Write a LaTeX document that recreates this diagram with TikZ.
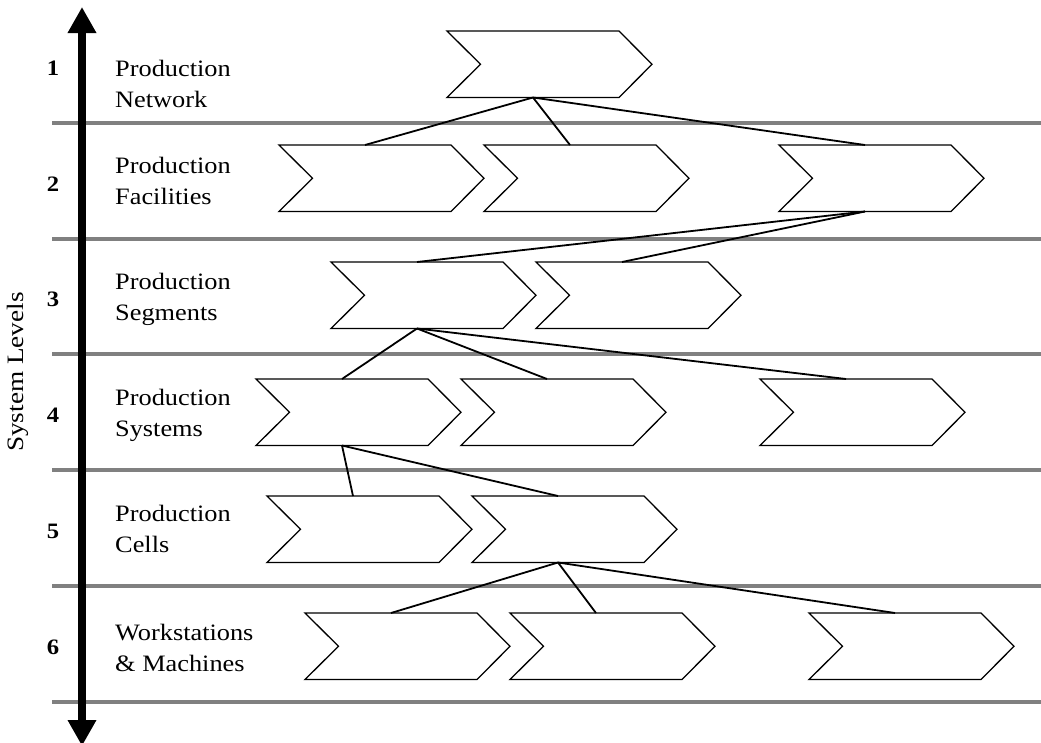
\documentclass[tikz,border=0pt]{standalone}
\usepackage{fontspec}
\setmainfont{Liberation Serif}
\usetikzlibrary{arrows.meta}
\definecolor{rulegray}{RGB}{128,128,128}

% chevron drawn around an invisible named box: name, left x, top y
\newcommand\chev[3]{%
  \node[chevbox, anchor=north west] (#1) at (#2,#3) {};
  \draw[chevline] (#1.north west) -- ([xshift=-33pt]#1.north east) -- (#1.east)
    -- ([xshift=-33pt]#1.south east) -- (#1.south west) -- ([xshift=33.5pt]#1.west) -- cycle;}
% link from the middle of a parent's lower edge to a child's upper edge
\newcommand\linkto[2]{%
  \draw[link] ([xshift=-16.5pt]#1.south) -- ([xshift=-16.5pt]#2.north);}
\newcommand\wide[1]{\scalebox{1.12}[1]{#1}}

\begin{document}
\begin{tikzpicture}[x=1pt,y=-1pt,
  chevbox/.style={draw=none, minimum width=205pt, minimum height=66.5pt, inner sep=0pt, outer sep=0pt},
  chevline/.style={line width=1.3pt, line join=miter, fill=white},
  link/.style={line width=1.8pt},
  band/.style={line width=4pt, draw=rulegray},
  lvl/.style={anchor=base, inner sep=0pt, font=\fontsize{22}{22}\selectfont\bfseries},
  lbl/.style={anchor=base west, inner sep=0pt, font=\fontsize{23.5}{31.5}\selectfont},
  axis/.style={line width=8.7pt, {Triangle[length=26pt,width=27pt]}-{Triangle[length=26pt,width=27pt]}}]
\useasboundingbox (0,0) rectangle (1041,742);

% level separators
\foreach \yy in {123,238.5,354,470,586,702}
  \draw[band] (52,\yy) -- (1045,\yy);

% vertical axis
\coordinate (axtop) at (82,7);
\coordinate (axbot) at (82,746);
\draw[axis] (axbot) -- (axtop);
\node[rotate=90, inner sep=0pt, font=\fontsize{23.5}{23.5}\selectfont] (axlabel) at (18,372) {\scalebox{1.16}[1]{System Levels}};

% level numbers
\node[lvl] (l1) at (53,75) {\wide{1}};
\node[lvl] (l2) at (53,191) {\wide{2}};
\node[lvl] (l3) at (53,306) {\wide{3}};
\node[lvl] (l4) at (53,422) {\wide{4}};
\node[lvl] (l5) at (53,538) {\wide{5}};
\node[lvl] (l6) at (53,654) {\wide{6}};

% level names
\node[lbl] (t1) at (115,76) {\wide{\begin{tabular}[t]{@{}l@{}}Production\\Network\end{tabular}}};
\node[lbl] (t2) at (115,173) {\wide{\begin{tabular}[t]{@{}l@{}}Production\\Facilities\end{tabular}}};
\node[lbl] (t3) at (115,289) {\wide{\begin{tabular}[t]{@{}l@{}}Production\\Segments\end{tabular}}};
\node[lbl] (t4) at (115,405) {\wide{\begin{tabular}[t]{@{}l@{}}Production\\Systems\end{tabular}}};
\node[lbl] (t5) at (115,521) {\wide{\begin{tabular}[t]{@{}l@{}}Production\\Cells\end{tabular}}};
\node[lbl] (t6) at (115,640) {\wide{\begin{tabular}[t]{@{}l@{}}Workstations\\\& Machines\end{tabular}}};

% chevrons per level
\chev{n1}{447}{31}
\chev{f1}{279}{145} \chev{f2}{484}{145} \chev{f3}{779}{145}
\chev{s1}{331}{262} \chev{s2}{536}{262}
\chev{y1}{256}{379} \chev{y2}{461}{379} \chev{y3}{760}{379}
\chev{c1}{267}{496} \chev{c2}{472}{496}
\chev{w1}{305}{613} \chev{w2}{510}{613} \chev{w3}{809}{613}

% hierarchy links
\linkto{n1}{f1} \linkto{n1}{f2} \linkto{n1}{f3}
\linkto{f3}{s1} \linkto{f3}{s2}
\linkto{s1}{y1} \linkto{s1}{y2} \linkto{s1}{y3}
\linkto{y1}{c1} \linkto{y1}{c2}
\linkto{c2}{w1} \linkto{c2}{w2} \linkto{c2}{w3}
\end{tikzpicture}
\end{document}
